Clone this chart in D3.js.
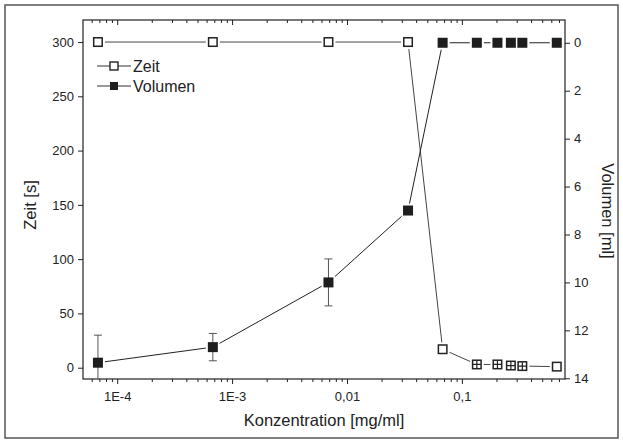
<!DOCTYPE html>
<html>
<head>
<meta charset="utf-8">
<script src="https://cdn.jsdelivr.net/npm/d3@7"></script>
<style>
  body { margin: 0; background: #fff; }
  text { font-family: "Liberation Sans", Arial, Helvetica, sans-serif; fill: #222; }
</style>
</head>
<body>
<div id="graph_area"></div>
<script>
// Data
const konz = [6.8e-5, 6.8e-4, 6.9e-3, 0.034, 0.068, 0.135, 0.204, 0.267, 0.336, 0.67];
const zeit = [300, 300, 300, 300, 17, 3, 3, 2, 1.5, 1];
const zeitMarker = ['open', 'open', 'open', 'open', 'open', 'cross', 'cross', 'cross', 'cross', 'open'];
const volumen = [13.35, 12.7, 10.0, 7.0, 0, 0, 0, 0, 0, 0];
const volumenErr = [1.15, 0.57, 0.98, 0, 0, 0, 0, 0, 0, 0];

const xMajor = [1e-4, 1e-3, 1e-2, 1e-1];
const xMajorLabels = ['1E-4', '1E-3', '0,01', '0,1'];
const zeitTicks = [0, 50, 100, 150, 200, 250, 300];
const volTicks = [0, 2, 4, 6, 8, 10, 12, 14];

const W = 623, H = 443;
const plot = { left: 83, right: 565, top: 20, bottom: 379 };

const svg = d3.select('#graph_area')
  .append('svg')
    .attr('width', W)
    .attr('height', H);

// outer frame
svg.append('rect')
  .attr('x', 5).attr('y', 5)
  .attr('width', 613).attr('height', 433)
  .attr('fill', 'none')
  .attr('stroke', '#555')
  .attr('stroke-width', 1.5);

// Scales
const x = d3.scaleLog()
  .domain([5.04e-5, 0.79])
  .range([plot.left, plot.right]);
const yL = d3.scaleLinear()
  .domain([-10.4, 320.3])
  .range([plot.bottom, plot.top]);
const yR = d3.scaleLinear()
  .domain([-0.95, 14.03])
  .range([plot.top, plot.bottom]);

// minor ticks for log axis
const xMinor = [];
for (let e = -5; e <= 0; e++) {
  for (let m = 2; m <= 9; m++) {
    const v = m * Math.pow(10, e);
    if (v >= x.domain()[0] && v <= x.domain()[1]) xMinor.push(v);
  }
}

function styleAxis(g) {
  g.select('.domain').remove();
  g.selectAll('line').attr('stroke', '#222').attr('stroke-width', 1);
  g.selectAll('text')
    .style('font-family', '"Liberation Sans", Arial, sans-serif')
    .style('font-size', '13px')
    .attr('fill', '#222');
}

// Bottom axis
svg.append('g')
  .attr('transform', `translate(0,${plot.bottom})`)
  .call(d3.axisBottom(x).tickValues(xMinor).tickSize(3).tickFormat(''))
  .call(styleAxis);
svg.append('g')
  .attr('transform', `translate(0,${plot.bottom})`)
  .call(d3.axisBottom(x).tickValues(xMajor).tickSize(5).tickPadding(8)
    .tickFormat((d, i) => xMajorLabels[i]))
  .call(styleAxis);

// Top axis (ticks inward)
svg.append('g')
  .attr('transform', `translate(0,${plot.top})`)
  .call(d3.axisBottom(x).tickValues(xMinor).tickSize(3).tickFormat(''))
  .call(styleAxis);
svg.append('g')
  .attr('transform', `translate(0,${plot.top})`)
  .call(d3.axisBottom(x).tickValues(xMajor).tickSize(5).tickFormat(''))
  .call(styleAxis);

// Left axis
svg.append('g')
  .attr('transform', `translate(${plot.left},0)`)
  .call(d3.axisLeft(yL).tickValues(zeitTicks).tickSize(5).tickPadding(4))
  .call(styleAxis);

// Right axis
svg.append('g')
  .attr('transform', `translate(${plot.right},0)`)
  .call(d3.axisRight(yR).tickValues(volTicks).tickSize(5).tickPadding(4))
  .call(styleAxis);

// plot frame
svg.append('rect')
  .attr('x', plot.left).attr('y', plot.top)
  .attr('width', plot.right - plot.left)
  .attr('height', plot.bottom - plot.top)
  .attr('fill', 'none')
  .attr('stroke', '#222')
  .attr('stroke-width', 1.2);

// Axis titles
svg.append('text')
  .attr('x', (plot.left + plot.right) / 2)
  .attr('y', 426)
  .attr('text-anchor', 'middle')
  .style('font-size', '16.5px')
  .text('Konzentration [mg/ml]');
svg.append('text')
  .attr('transform', 'translate(36,205) rotate(-90)')
  .attr('text-anchor', 'middle')
  .style('font-size', '16.5px')
  .text('Zeit [s]');
svg.append('text')
  .attr('transform', 'translate(602,211) rotate(90)')
  .attr('text-anchor', 'middle')
  .style('font-size', '16.5px')
  .text('Volumen [ml]');

svg.append('clipPath').attr('id', 'clip')
  .append('rect')
  .attr('x', plot.left).attr('y', plot.top)
  .attr('width', plot.right - plot.left)
  .attr('height', plot.bottom - plot.top);

const area = svg.append('g').attr('clip-path', 'url(#clip)');

// Lines with gaps around the markers
const half = 5, gap = 2;
function gapSegments(pts) {
  const segs = [];
  for (let i = 0; i < pts.length - 1; i++) {
    const [x1, y1] = pts[i], [x2, y2] = pts[i + 1];
    const dx = x2 - x1, dy = y2 - y1;
    const len = Math.hypot(dx, dy);
    const ux = dx / len, uy = dy / len;
    const trim = half / Math.max(Math.abs(ux), Math.abs(uy)) + gap;
    if (len > 2 * trim) {
      segs.push([x1 + ux * trim, y1 + uy * trim, x2 - ux * trim, y2 - uy * trim]);
    }
  }
  return segs;
}

const zeitPts = konz.map((k, i) => [x(k), yL(zeit[i])]);
const volPts = konz.map((k, i) => [x(k), yR(volumen[i])]);

area.selectAll('line.zeit')
  .data(gapSegments(zeitPts))
  .join('line')
    .attr('x1', d => d[0]).attr('y1', d => d[1])
    .attr('x2', d => d[2]).attr('y2', d => d[3])
    .attr('stroke', '#444').attr('stroke-width', 1);

area.selectAll('line.vol')
  .data(gapSegments(volPts))
  .join('line')
    .attr('x1', d => d[0]).attr('y1', d => d[1])
    .attr('x2', d => d[2]).attr('y2', d => d[3])
    .attr('stroke', '#222').attr('stroke-width', 1);

// Error bars for Volumen
const errData = konz.map((k, i) => ({ k, v: volumen[i], e: volumenErr[i] })).filter(d => d.e > 0);
const eb = area.selectAll('g.err').data(errData).join('g')
  .attr('stroke', '#555').attr('stroke-width', 1);
eb.append('line')
  .attr('x1', d => x(d.k)).attr('x2', d => x(d.k))
  .attr('y1', d => yR(d.v - d.e)).attr('y2', d => yR(d.v + d.e));
eb.append('line')
  .attr('x1', d => x(d.k) - 4).attr('x2', d => x(d.k) + 4)
  .attr('y1', d => yR(d.v - d.e)).attr('y2', d => yR(d.v - d.e));
eb.append('line')
  .attr('x1', d => x(d.k) - 4).attr('x2', d => x(d.k) + 4)
  .attr('y1', d => yR(d.v + d.e)).attr('y2', d => yR(d.v + d.e));

// Zeit markers
const zm = svg.append('g').selectAll('g')
  .data(konz.map((k, i) => ({ k, v: zeit[i], m: zeitMarker[i] })))
  .join('g')
  .attr('transform', d => `translate(${x(d.k)},${yL(d.v)})`);
zm.append('rect')
  .attr('x', -half + 0.75).attr('y', -half + 0.75)
  .attr('width', 2 * half - 1.5).attr('height', 2 * half - 1.5)
  .attr('fill', '#fff').attr('stroke', '#222').attr('stroke-width', 1.5);
zm.filter(d => d.m === 'cross').append('path')
  .attr('d', `M${-half + 1},0H${half - 1}M0,${-half + 1}V${half - 1}`)
  .attr('stroke', '#222').attr('stroke-width', 1.2);

// Volumen markers
svg.append('g').selectAll('rect')
  .data(konz.map((k, i) => ({ k, v: volumen[i] })))
  .join('rect')
  .attr('x', d => x(d.k) - half).attr('y', d => yR(d.v) - half)
  .attr('width', 2 * half).attr('height', 2 * half)
  .attr('fill', '#1e1e1e');

// Legend
const legend = svg.append('g').attr('transform', 'translate(97,0)');
const legendItems = [
  { name: 'Zeit', y: 66, filled: false },
  { name: 'Volumen', y: 86, filled: true },
];
legendItems.forEach(it => {
  legend.append('line')
    .attr('x1', 0).attr('x2', 34)
    .attr('y1', it.y).attr('y2', it.y)
    .attr('stroke', '#333').attr('stroke-width', 1);
  legend.append('rect')
    .attr('x', 13).attr('y', it.y - 4)
    .attr('width', 8).attr('height', 8)
    .attr('fill', it.filled ? '#1e1e1e' : '#fff')
    .attr('stroke', '#222').attr('stroke-width', it.filled ? 0 : 1.4);
  legend.append('text')
    .attr('x', 36).attr('y', it.y + 5.5)
    .style('font-size', '16px')
    .text(it.name);
});
</script>
</body>
</html>
